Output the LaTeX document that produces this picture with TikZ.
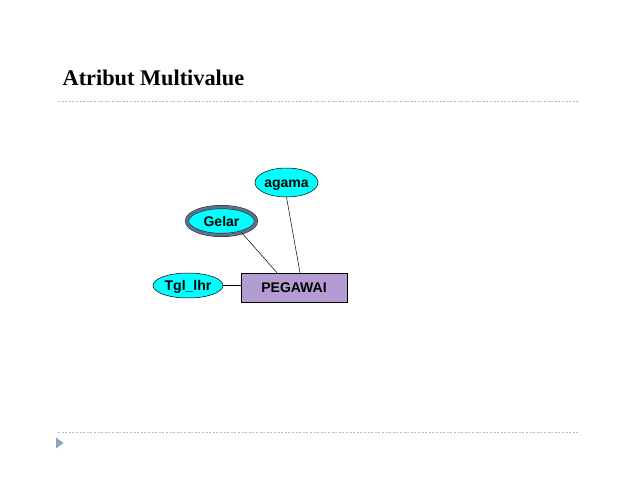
\documentclass[tikz,border=0pt]{standalone}
\usepackage{fontspec}
\setmainfont{Liberation Serif}
\setsansfont{Liberation Sans}
\usetikzlibrary{shapes.geometric}
\definecolor{attrcyan}{HTML}{00FFFF}
\definecolor{entpurple}{HTML}{B49CD2}
\definecolor{ringslate}{HTML}{5F6F8F}
\definecolor{ruleblue}{HTML}{A9BFCC}
\definecolor{bulletblue}{HTML}{8CA3C3}
\tikzset{
  attr/.style={ellipse, draw=black, line width=0.5pt, fill=attrcyan, inner sep=0pt,
    text height=10pt, text depth=0pt,
    font=\sffamily\bfseries\fontsize{14}{16}\selectfont},
  multiattr/.style={attr, draw=black!85, double=ringslate, double distance=3pt, line width=0.5pt},
  entity/.style={rectangle, draw=black, line width=0.5pt, fill=entpurple, inner sep=0pt,
    text height=10pt, text depth=0pt,
    font=\sffamily\bfseries\fontsize{14}{16}\selectfont},
  link/.style={draw=black, line width=0.5pt},
  rule/.style={draw=ruleblue, line width=0.9pt, dash pattern=on 2pt off 1.6pt},
}
\begin{document}
\begin{tikzpicture}[x=1pt,y=1pt]
\useasboundingbox[fill=white] (0,0) rectangle (638,-493);
\node[anchor=base west, inner sep=0pt, font=\bfseries\fontsize{22.3}{25}\selectfont] (title) at (62.5,-85.5) {Atribut Multivalue};
\coordinate (r1a) at (58,-101);
\coordinate (r1b) at (580,-101);
\draw[rule] (r1a) -- (r1b);
\coordinate (r2a) at (58,-432);
\coordinate (r2b) at (580,-432);
\draw[rule] (r2a) -- (r2b);
\fill[bulletblue] (56,-437.5) -- (63.5,-443) -- (56,-448.5) -- cycle;

\node[entity, minimum width=106pt, minimum height=29pt] (peg) at (294,-287.5) {PEGAWAI};
\node[attr, minimum width=63pt, minimum height=29pt] (agama) at (286.5,-182.5) {agama};
\node[multiattr, minimum width=69pt, minimum height=28pt] (gelar) at (221.5,-221) {Gelar};
\node[attr, minimum width=70pt, minimum height=25pt] (tgl) at (188,-285.5) {Tgl\_lhr};

\draw[link] (tgl.east) -- (tgl.east -| peg.west);
\draw[link] (gelar.-30) -- ([xshift=-17pt]peg.north);
\draw[link] (agama.south) -- ([xshift=6pt]peg.north);
\end{tikzpicture}
\end{document}
